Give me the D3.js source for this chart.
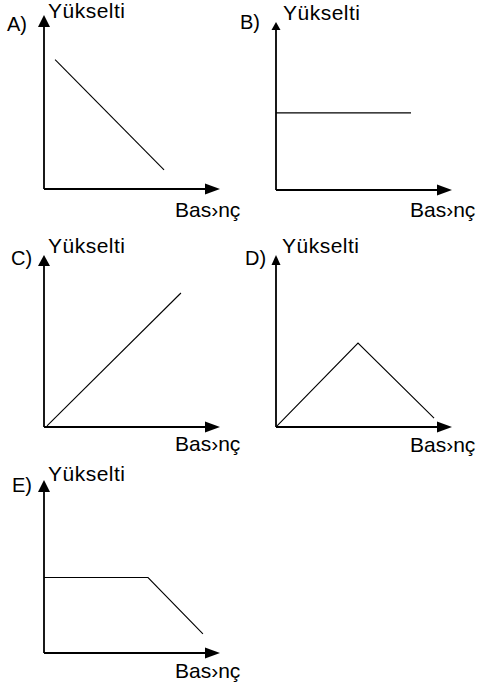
<!DOCTYPE html>
<html>
<head>
<meta charset="utf-8">
<script src="https://cdn.jsdelivr.net/npm/d3@7"></script>
<style>
  html, body { margin: 0; padding: 0; background: #fff; }
  svg { display: block; }
  text { font-family: "Liberation Sans", Arial, sans-serif; fill: #000; }
</style>
</head>
<body>
<svg id="chart" width="478" height="691"></svg>
<script>
// ---- data ----
const panelLetters = ["A)", "B)", "C)", "D)", "E)"];
const yAxisLabel = "Yükselti";
const xAxisLabel = "Bas\u203Anç";
// series points: [basınç, yükselti] in relative units (0-100)
const seriesA = [[6.3, 74.4], [68.2, 11.0]];
const seriesB = [[0, 45.9], [76.7, 45.9]];
const seriesC = [[1.7, 0.6], [77.8, 77.9]];
const seriesD = [[0.6, 0.6], [46.6, 48.8], [89.8, 5.2]];
const seriesE = [[0, 43.6], [59.1, 43.6], [90.3, 11.0]];
const allSeries = [seriesA, seriesB, seriesC, seriesD, seriesE];

// ---- layout ----
const layout = [
  { ox: 44,  oy: 189, h: 174, letter: [7, 31],   ylab: [48, 18],   xlab: [175, 217], arrowY: [12, 12] },
  { ox: 276, oy: 190, h: 168, letter: [240, 29], ylab: [283, 20],  xlab: [410, 217], arrowY: [9, 8] },
  { ox: 44,  oy: 427, h: 172, letter: [11, 265], ylab: [48, 253],  xlab: [175, 451], arrowY: [12, 11] },
  { ox: 276, oy: 427, h: 172, letter: [245, 265],ylab: [282, 253], xlab: [410, 452], arrowY: [9, 10] },
  { ox: 44,  oy: 653, h: 173, letter: [12, 492], ylab: [48, 481],  xlab: [175, 678], arrowY: [12, 12] }
];
const axisW = 176;

const svg = d3.select("#chart");
const line = d3.line();

allSeries.forEach((data, i) => {
  const L = layout[i];
  const x = d3.scaleLinear().domain([0, 100]).range([L.ox, L.ox + axisW]);
  const y = d3.scaleLinear().domain([0, 100]).range([L.oy, L.oy - L.h]);
  const g = svg.append("g");

  // axes
  const xTip = x(100), yTip = y(100);
  g.append("line").attr("x1", x(0)).attr("y1", y(0)).attr("x2", xTip - 10).attr("y2", y(0))
    .attr("stroke", "#000").attr("stroke-width", 1.8);
  g.append("line").attr("x1", x(0)).attr("y1", y(0)).attr("x2", x(0)).attr("y2", yTip + 8)
    .attr("stroke", "#000").attr("stroke-width", 1.8);
  // arrow heads
  g.append("path")
    .attr("d", `M${xTip},${y(0)} L${xTip - 15},${y(0) - 5.5} L${xTip - 15},${y(0) + 5.5} Z`)
    .attr("fill", "#000");
  const aw = L.arrowY[0] / 2, ah = L.arrowY[1];
  g.append("path")
    .attr("d", `M${x(0)},${yTip} L${x(0) - aw},${yTip + ah} L${x(0) + aw},${yTip + ah} Z`)
    .attr("fill", "#000");

  // data line
  g.append("path")
    .attr("d", line(data.map(d => [x(d[0]), y(d[1])])))
    .attr("fill", "none").attr("stroke", "#000").attr("stroke-width", 1.1);

  // labels
  g.append("text").attr("x", L.letter[0]).attr("y", L.letter[1])
    .attr("font-size", 20).text(panelLetters[i]);
  g.append("text").attr("x", L.ylab[0]).attr("y", L.ylab[1])
    .attr("font-size", 21).attr("letter-spacing", 0.5).text(yAxisLabel);
  g.append("text").attr("x", L.xlab[0]).attr("y", L.xlab[1])
    .attr("font-size", 21).text(xAxisLabel);
});
</script>
</body>
</html>
